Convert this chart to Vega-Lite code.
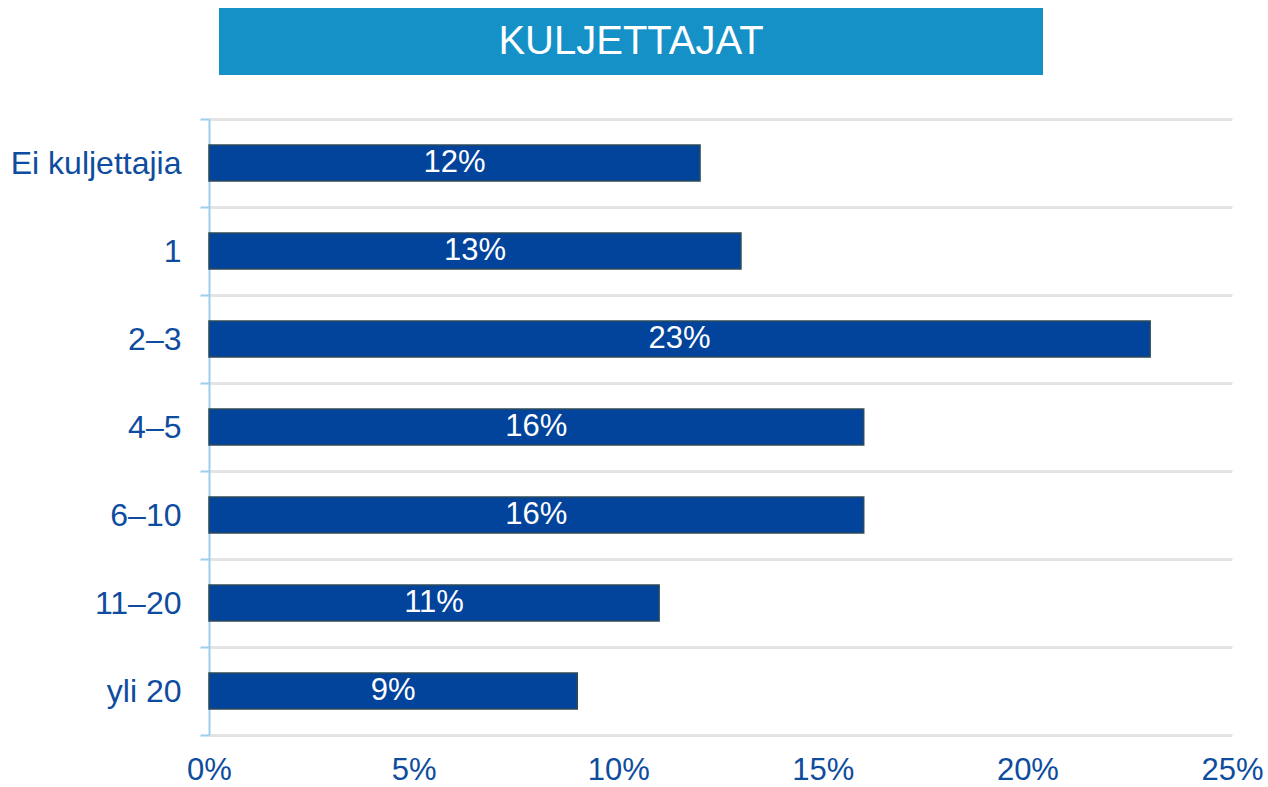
{
  "$schema": "https://vega.github.io/schema/vega-lite/v6.json",
  "padding": {"left": 10, "top": 8, "right": 0, "bottom": 0},
  "background": "white",
  "config": {"font": "Liberation Sans", "view": {"stroke": null}},
  "spacing": 28,
  "vconcat": [
    {
      "spacing": 0,
      "hconcat": [
        {
          "width": 10,
          "height": 67,
          "data": {"values": [{"tyhja": ""}]},
          "mark": {"type": "text", "opacity": 0},
          "encoding": {"text": {"field": "tyhja", "type": "nominal"}}
        },
        {
          "width": 824,
          "height": 67,
          "view": {"fill": "#1591c8", "stroke": null},
          "data": {"values": [{"title": "KULJETTAJAT"}]},
          "mark": {"type": "text", "color": "white", "fontSize": 40, "align": "center", "baseline": "middle"},
          "encoding": {"text": {"field": "title", "type": "nominal"}}
        }
      ]
    },
    {
      "width": 1023,
      "height": 616,
      "data": {
        "values": [
          {"kategoria": "Ei kuljettajia", "osuus": 0.12},
          {"kategoria": "1", "osuus": 0.13},
          {"kategoria": "2–3", "osuus": 0.23},
          {"kategoria": "4–5", "osuus": 0.16},
          {"kategoria": "6–10", "osuus": 0.16},
          {"kategoria": "11–20", "osuus": 0.11},
          {"kategoria": "yli 20", "osuus": 0.09}
        ]
      },
      "encoding": {
        "y": {
          "field": "kategoria",
          "type": "nominal",
          "sort": null,
          "scale": {"paddingInner": 0, "paddingOuter": 0},
          "axis": {
            "title": null,
            "tickBand": "extent",
            "grid": true,
            "gridColor": "#e3e3e3",
            "gridWidth": 3,
            "domainColor": "#9dcdee",
            "domainWidth": 2,
            "tickColor": "#9dcdee",
            "tickWidth": 2,
            "tickSize": 9,
            "labelFontSize": 32,
            "labelColor": "#0d4c9e",
            "labelPadding": 19
          }
        }
      },
      "layer": [
        {
          "mark": {"type": "bar", "color": "#02439b", "stroke": "#2d4b58", "strokeWidth": 1.5, "height": {"band": 0.41}},
          "encoding": {
            "x": {
              "field": "osuus",
              "type": "quantitative",
              "scale": {"domain": [0, 0.25], "nice": false},
              "axis": {
                "title": null,
                "format": ".0%",
                "values": [0, 0.05, 0.1, 0.15, 0.2, 0.25],
                "grid": false,
                "domain": false,
                "ticks": false,
                "labelFontSize": 31,
                "labelColor": "#0d4c9e",
                "labelPadding": 20,
                "labelFlush": false
              }
            }
          }
        },
        {
          "transform": [{"calculate": "datum.osuus / 2", "as": "keskikohta"}],
          "mark": {"type": "text", "color": "white", "fontSize": 31, "align": "center", "baseline": "middle"},
          "encoding": {
            "x": {"field": "keskikohta", "type": "quantitative"},
            "text": {"field": "osuus", "type": "quantitative", "format": ".0%"}
          }
        }
      ]
    }
  ]
}
